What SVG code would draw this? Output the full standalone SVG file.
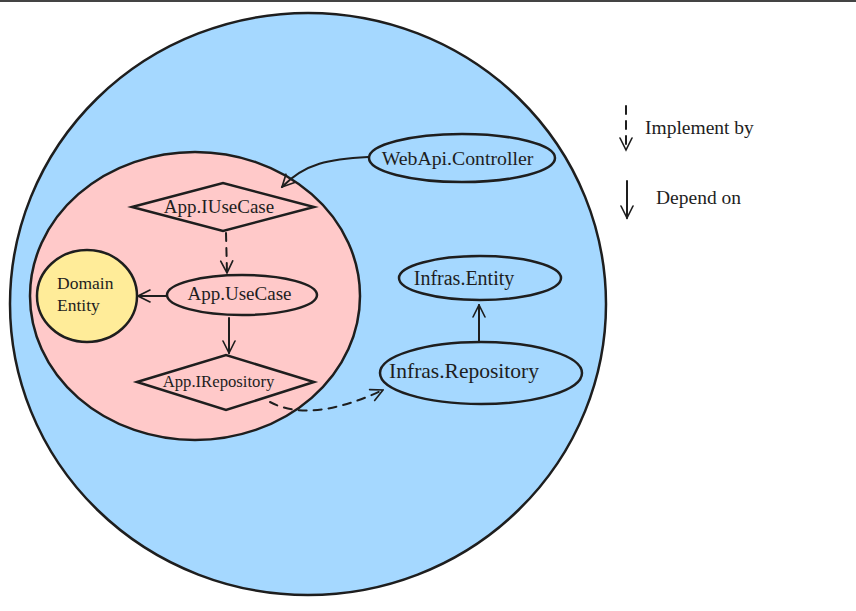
<svg xmlns="http://www.w3.org/2000/svg" width="856" height="611" viewBox="0 0 856 611">
<defs>
<style>
.n{stroke:#1e1e1e;stroke-width:2.5;}
.t{font-family:"Liberation Serif",serif;fill:#1e1e1e;}
.c{fill:none;stroke:#1e1e1e;stroke-width:2;stroke-linecap:round;}
.d{stroke-dasharray:8 7;}
</style>
<marker id="ah" viewBox="0 0 20 20" refX="18" refY="10" markerWidth="15" markerHeight="15" markerUnits="userSpaceOnUse" orient="auto">
<path d="M2,2 L18,10 L2,18" fill="none" stroke="#1e1e1e" stroke-width="2.2" stroke-linecap="round"/>
</marker>
</defs>
<rect x="0" y="0" width="856" height="611" fill="#ffffff"/>
<rect x="0" y="0" width="856" height="2" fill="#444444"/>
<g id="outer"><ellipse cx="308" cy="304" rx="298" ry="291" fill="#a5d8ff" class="n"/></g>
<g id="inner"><ellipse cx="195" cy="296" rx="165" ry="144" fill="#ffc9c9" class="n"/></g>
<g id="domain-entity"><ellipse cx="87" cy="296" rx="50" ry="46" fill="#ffec99" class="n"/>
<text class="t" x="57" y="289" font-size="17.5">Domain</text>
<text class="t" x="57" y="311" font-size="17.5">Entity</text></g>
<g id="app-iusecase"><polygon points="132,207 223,183 314,207 223,231" fill="none" class="n"/>
<text class="t" x="219" y="213" font-size="19" text-anchor="middle">App.IUseCase</text></g>
<g id="app-usecase"><ellipse cx="242" cy="295" rx="75" ry="20" fill="none" class="n"/>
<text class="t" x="239.5" y="300" font-size="19" text-anchor="middle">App.UseCase</text></g>
<g id="app-irepository"><polygon points="137,382 226,355 314,382 226,410" fill="none" class="n"/>
<text class="t" x="218.5" y="387" font-size="16.7" text-anchor="middle">App.IRepository</text></g>
<g id="webapi-controller"><ellipse cx="462" cy="158" rx="93" ry="24" fill="none" class="n"/>
<text class="t" x="457.5" y="165" font-size="19.8" text-anchor="middle">WebApi.Controller</text></g>
<g id="infras-entity"><ellipse cx="480" cy="278" rx="81" ry="22" fill="none" class="n"/>
<text class="t" x="464" y="285" font-size="20" text-anchor="middle">Infras.Entity</text></g>
<g id="infras-repository"><ellipse cx="481" cy="373" rx="101" ry="31" fill="none" class="n"/>
<text class="t" x="464" y="378" font-size="21.5" text-anchor="middle">Infras.Repository</text></g>
<g id="connectors">
<path class="c" d="M368,157 C330,159 305,163 282,187" marker-end="url(#ah)"/>
<path class="c d" d="M226,233 L227,273" marker-end="url(#ah)"/>
<path class="c" d="M166,296 L138,296" marker-end="url(#ah)"/>
<path class="c" d="M229,318 L229,353" marker-end="url(#ah)"/>
<path class="c d" d="M270,402 C300,418 340,410 383,390" marker-end="url(#ah)"/>
<path class="c" d="M479,342 L479,305" marker-end="url(#ah)"/>
</g>
<g id="legend">
<path class="c d" d="M626,106 L626,150" marker-end="url(#ah)" stroke-dasharray="9 8"/>
<text class="t" x="645" y="134" font-size="19.5">Implement by</text>
<path class="c" d="M627,181 L627,218" marker-end="url(#ah)"/>
<text class="t" x="656" y="204" font-size="19.5">Depend on</text>
</g>
</svg>
